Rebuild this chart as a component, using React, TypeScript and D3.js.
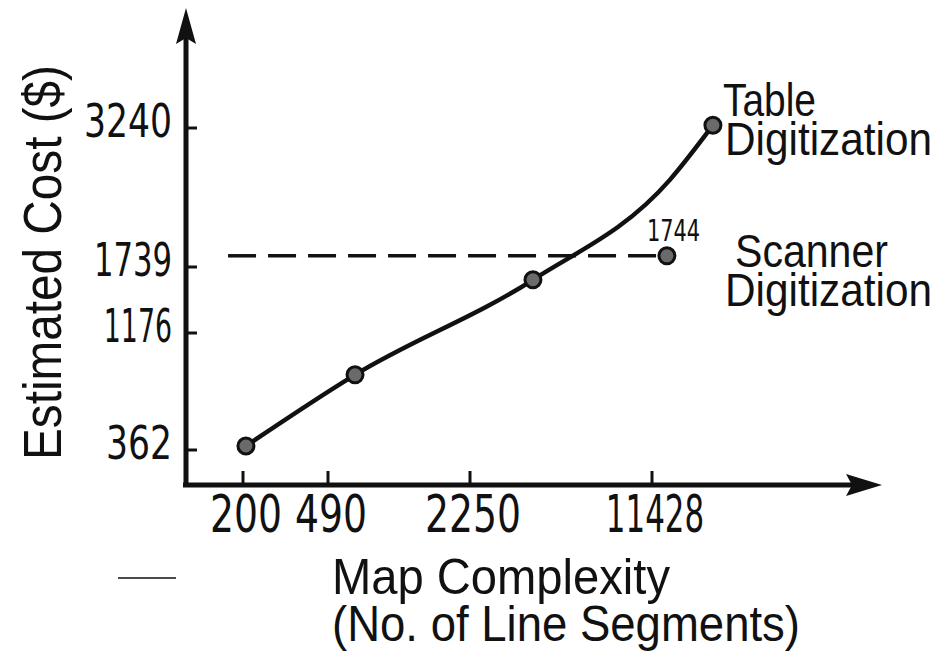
import * as d3 from "d3"
import { useEffect, useRef } from "react"

// values
const xTicks = [200, 490, 2250, 11428]
const yTicks = [362, 1176, 1739, 3240]

// table digitization: markers + the hand drawn trace through them
const tableComplexity = [210, 825, 5425, 14500]
const tableCost = [390, 885, 1630, 3270]
const tableTraceComplexity = [210, 825, 5425, 12330, 14500]
const tableTraceCost = [390, 885, 1630, 2680, 3270]

// scanner digitization: flat dashed line ending in one marker
const scannerComplexity = [149, 12180]
const scannerCost = [1860, 1860]
const scannerLabel = "1744"

const tableLines = ["Table", "Digitization"]
const scannerLines = ["Scanner", "Digitization"]

// layout
const W = 943
const H = 653
const xRange = [243, 328, 470, 652]
const yRange = [450, 333, 267, 128]
const axisX = 186
const axisY = 485
const NUM_FONT = "'Liberation Sans Narrow', 'DejaVu Sans Condensed', sans-serif"
const TXT_FONT = "'Liberation Sans', Arial, sans-serif"
const INK = "#111"

// the lettering has narrow ones, so digits are sized one by one
const numWidth = (s, unit) => s.split("").reduce((w, ch) => w + (ch === "1" ? unit * 0.55 : unit), 0)

const App = () => {
    const svgRef = useRef(null)

    useEffect(() => {
        const svg = d3.select(svgRef.current)
        svg.selectAll("*").remove()

        const x = d3.scaleLinear().domain(xTicks).range(xRange)
        const y = d3.scaleLinear().domain(yTicks).range(yRange)

        const g = svg.append("g")

        // axes with arrows
        g.append("line")
            .attr("x1", axisX).attr("x2", axisX)
            .attr("y1", axisY + 2).attr("y2", 30)
            .attr("stroke", INK).attr("stroke-width", 5)
        g.append("path")
            .attr("d", `M${axisX},8 L${axisX + 10},44 L${axisX},38 L${axisX - 10},44 Z`)
            .attr("fill", INK)
        g.append("line")
            .attr("x1", axisX - 3).attr("x2", 860)
            .attr("y1", axisY).attr("y2", axisY)
            .attr("stroke", INK).attr("stroke-width", 5)
        g.append("path")
            .attr("d", `M882,${axisY} L846,${axisY - 11} L852,${axisY} L846,${axisY + 11} Z`)
            .attr("fill", INK)

        // y ticks (pointing inward)
        yTicks.forEach(v => {
            g.append("line")
                .attr("x1", axisX).attr("x2", axisX + 11)
                .attr("y1", y(v)).attr("y2", y(v))
                .attr("stroke", INK).attr("stroke-width", 3)
            g.append("text")
                .attr("x", 172).attr("y", y(v) + 9)
                .attr("text-anchor", "end")
                .attr("font-family", NUM_FONT)
                .attr("font-size", 46)
                .attr("textLength", numWidth(String(v), 22))
                .attr("lengthAdjust", "spacingAndGlyphs")
                .attr("fill", INK)
                .text(v)
        })

        // x ticks (pointing up)
        xTicks.forEach(v => {
            g.append("line")
                .attr("x1", x(v)).attr("x2", x(v))
                .attr("y1", axisY).attr("y2", axisY - 14)
                .attr("stroke", INK).attr("stroke-width", 3)
            g.append("text")
                .attr("x", x(v) + 3).attr("y", 532)
                .attr("text-anchor", "middle")
                .attr("font-family", NUM_FONT)
                .attr("font-size", 51)
                .attr("textLength", numWidth(String(v), 24))
                .attr("lengthAdjust", "spacingAndGlyphs")
                .attr("fill", INK)
                .text(v)
        })

        // axis titles
        g.append("text")
            .attr("transform", "translate(61,460) rotate(-90)")
            .attr("font-family", TXT_FONT)
            .attr("font-size", 54)
            .attr("textLength", 395)
            .attr("lengthAdjust", "spacingAndGlyphs")
            .attr("fill", INK)
            .text("Estimated Cost ($)")
        g.append("text")
            .attr("x", 332).attr("y", 594)
            .attr("font-family", TXT_FONT)
            .attr("font-size", 50)
            .attr("textLength", 338)
            .attr("lengthAdjust", "spacingAndGlyphs")
            .attr("fill", INK)
            .text("Map Complexity")
        g.append("text")
            .attr("x", 332).attr("y", 641)
            .attr("font-family", TXT_FONT)
            .attr("font-size", 50)
            .attr("textLength", 468)
            .attr("lengthAdjust", "spacingAndGlyphs")
            .attr("fill", INK)
            .text("(No. of Line Segments)")

        // stray scan mark
        g.append("line")
            .attr("x1", 118).attr("x2", 176)
            .attr("y1", 578).attr("y2", 578)
            .attr("stroke", INK).attr("stroke-width", 1.5)

        // scanner line
        const scanner = scannerComplexity.map((c, i) => [c, scannerCost[i]])
        g.append("path")
            .datum(scanner)
            .attr("d", d3.line().x(d => x(d[0])).y(d => y(d[1])))
            .attr("fill", "none")
            .attr("stroke", INK)
            .attr("stroke-width", 3.5)
            .attr("stroke-dasharray", "28 12")

        // table line
        const trace = tableTraceComplexity.map((c, i) => [c, tableTraceCost[i]])
        g.append("path")
            .datum(trace)
            .attr("d", d3.line().x(d => x(d[0])).y(d => y(d[1])).curve(d3.curveMonotoneX))
            .attr("fill", "none")
            .attr("stroke", INK)
            .attr("stroke-width", 4.5)
            .attr("stroke-linecap", "round")

        // markers
        const markers = tableComplexity.map((c, i) => [c, tableCost[i]])
            .concat([[scannerComplexity[1], scannerCost[1]]])
        g.selectAll("circle.pt")
            .data(markers)
            .join("circle")
            .attr("class", "pt")
            .attr("cx", d => x(d[0]))
            .attr("cy", d => y(d[1]))
            .attr("r", 8)
            .attr("fill", "#6a6a6a")
            .attr("stroke", INK)
            .attr("stroke-width", 3)

        // value label
        const last = scanner[scanner.length - 1]
        g.append("text")
            .attr("x", x(last[0]) - 20).attr("y", y(last[1]) - 15)
            .attr("font-family", NUM_FONT)
            .attr("font-size", 31)
            .attr("textLength", numWidth(scannerLabel, 15))
            .attr("lengthAdjust", "spacingAndGlyphs")
            .attr("fill", INK)
            .text(scannerLabel)

        // series names
        const labelBlock = (lines, xs, widths, y0) => {
            lines.forEach((t, i) => {
                g.append("text")
                    .attr("x", xs[i]).attr("y", y0 + i * 39)
                    .attr("font-family", TXT_FONT)
                    .attr("font-size", 46)
                    .attr("textLength", widths[i])
                    .attr("lengthAdjust", "spacingAndGlyphs")
                    .attr("fill", INK)
                    .text(t)
            })
        }
        labelBlock(tableLines, [723, 725], [93, 207], 116)
        labelBlock(scannerLines, [735, 725], [153, 207], 267)
    }, [])

    return (
        <svg ref={svgRef} width={W} height={H}
            style={{ position: "absolute", left: 0, top: 0, background: "#fff" }} />
    )
}

export default App
